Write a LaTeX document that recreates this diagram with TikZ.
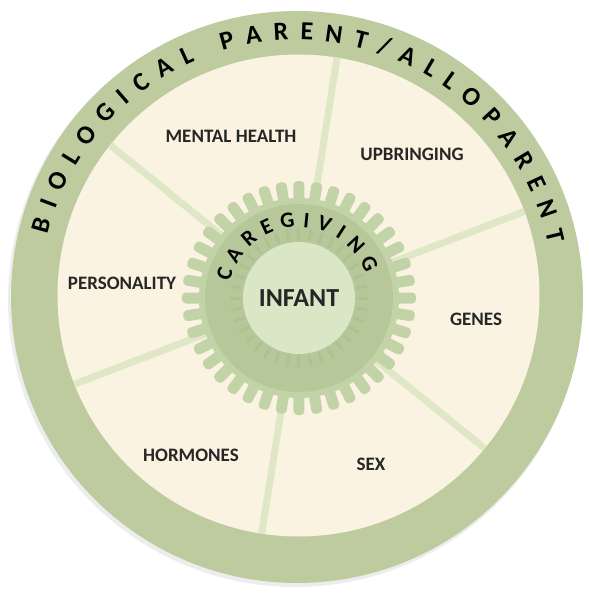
\documentclass[tikz,border=0pt]{standalone}
\usepackage{fontspec}
\setmainfont{Carlito}
\usetikzlibrary{decorations.text}

\definecolor{ringgreen}{HTML}{BDCB9F}
\definecolor{cream}{HTML}{FBF3E1}
\definecolor{toothgreen}{HTML}{C3D3A8}
\definecolor{gearband}{HTML}{B6C79A}
\definecolor{gearridge}{HTML}{AEC190}
\definecolor{infantgreen}{HTML}{DAE7C7}
\definecolor{spokegreen}{HTML}{DFE7C6}

\begin{document}
\begin{tikzpicture}[x=1pt, y=1pt,
  factor/.style={font=\bfseries\fontsize{19}{19}\selectfont, text=black!85},
  spoke/.style={spokegreen, line width=7pt}]
  \useasboundingbox (-297,-298) rectangle (292,297);

  % 外环
  \fill[black!7] (-2,-3) circle (287);
  \fill[ringgreen] (0,0) circle (286);
  \fill[cream] (1.5,1.5) circle (241);

  % 分隔线
  \begin{scope}
    \clip (1.5,1.5) circle (241);
    \foreach \a in {81,21,-39,-99,-159,141} {
      \draw[spoke] (2,-1) -- ++(\a:260);
    }
  \end{scope}

  % 齿轮
  \begin{scope}[shift={(2,-1)}]
    \foreach \a in {0,9,...,351} {
      \fill[toothgreen, rotate=\a, rounded corners=4pt] (94,-5.5) rectangle (117,5.5);
    }
    \fill[toothgreen] (0,0) circle (100);
    \fill[gearband] (0,0) circle (94);
    \foreach \a in {0,10,...,350} {
      \draw[gearridge, line width=3pt, line cap=round] (\a:59) -- (\a:68);
    }
    \fill[infantgreen] (0,0) circle (56);
    \node[font=\bfseries\fontsize{26}{26}\selectfont, text=black!85] (infant) at (0,0) {INFANT};

    % 环形文字
    \path[decorate, decoration={text along path, text align=fit to path,
      text={|\bfseries\fontsize{22}{22}\selectfont|CAREGIVING}}]
      (167:71) arc (167:20:71);
  \end{scope}

  \path[decorate, decoration={text along path, text align=fit to path,
    text={|\bfseries\fontsize{26}{26}\selectfont|BIOLOGICAL PARENT/ALLOPARENT}}]
    (166:257) arc (166:12:257);

  % 因素
  \node[factor] (mental) at (-66,161) {MENTAL HEALTH};
  \node[factor] (upbringing) at (115,143) {UPBRINGING};
  \node[factor] (personality) at (-175,14) {PERSONALITY};
  \node[factor] (genes) at (179,-22) {GENES};
  \node[factor] (hormones) at (-106,-158) {HORMONES};
  \node[factor] (sex) at (74,-167) {SEX};
\end{tikzpicture}
\end{document}
